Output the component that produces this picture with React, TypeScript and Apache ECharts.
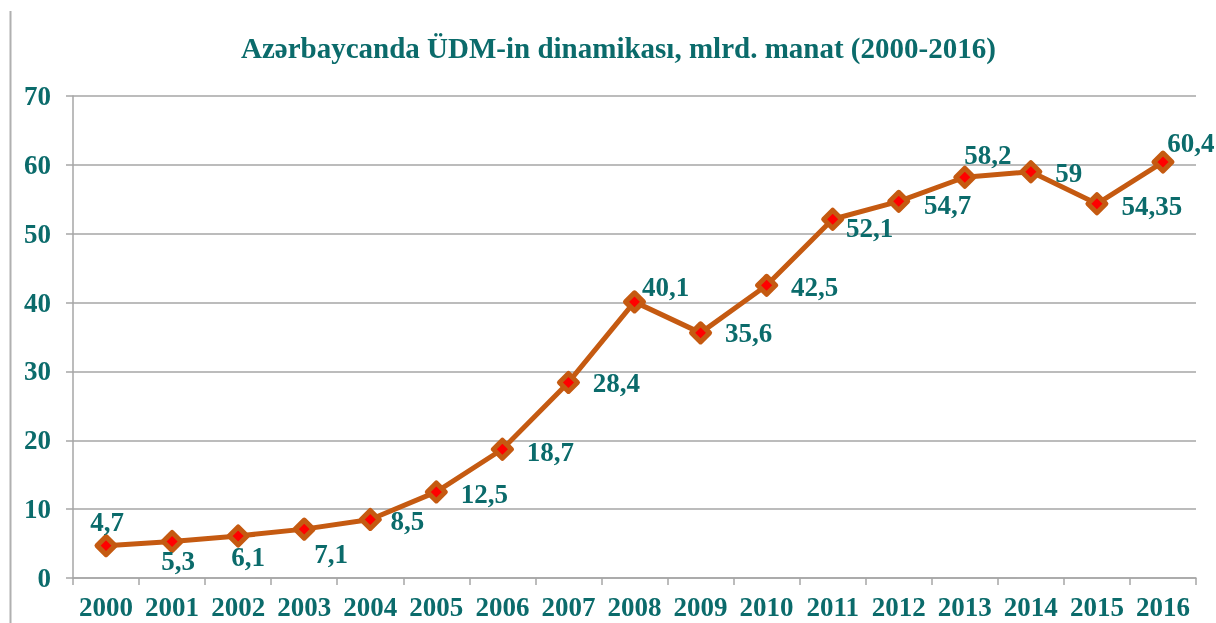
import React, { useEffect, useRef } from "react";
import * as echarts from "echarts";

const years = ["2000","2001","2002","2003","2004","2005","2006","2007","2008","2009","2010","2011","2012","2013","2014","2015","2016"];
const gdp = [4.7, 5.3, 6.1, 7.1, 8.5, 12.5, 18.7, 28.4, 40.1, 35.6, 42.5, 52.1, 54.7, 58.2, 59, 54.35, 60.4];
const labelTexts = ["4,7","5,3","6,1","7,1","8,5","12,5","18,7","28,4","40,1","35,6","42,5","52,1","54,7","58,2","59","54,35","60,4"];
const labelOffsets: [number, number][] = [
  [1, -24], [6, 19], [10, 21], [27, 25], [37, 2], [48, 2], [48, 3], [48, 1], [31, -15],
  [48, 0], [48, 2], [37, 9], [49, 4], [23, -22], [38, 1], [55, 2], [28, -19],
];
const title = "Azərbaycanda ÜDM-in dinamikası, mlrd. manat (2000-2016)";

const TEAL = "#0b6b6b";
const ORANGE = "#c55a11";
const GRID = "#a6a6a6";
const FONT = "'Liberation Serif', 'Times New Roman', serif";

export default function App() {
  const ref = useRef<HTMLDivElement>(null);
  useEffect(() => {
    const chart = echarts.init(ref.current!, null, { renderer: "svg" });
    chart.setOption({
      animation: false,
      title: {
        text: title,
        left: 236,
        top: 28,
        textStyle: { color: TEAL, fontFamily: FONT, fontWeight: "bold", fontSize: 29 },
      },
      graphic: [
        { type: "line", shape: { x1: 10.5, y1: 11, x2: 10.5, y2: 623 }, style: { stroke: "#b0b0b0", lineWidth: 2 } },
      ],
      grid: { left: 73, right: 20, top: 96, bottom: 45, containLabel: false },
      xAxis: {
        type: "category",
        data: years,
        boundaryGap: true,
        axisLine: { show: true, lineStyle: { color: GRID, width: 1.5 } },
        axisTick: { show: true, length: 7, alignWithLabel: false, lineStyle: { color: GRID, width: 1.5 } },
        axisLabel: { interval: 0, color: TEAL, fontFamily: FONT, fontWeight: "bold", fontSize: 27, margin: 15 },
      },
      yAxis: {
        type: "value",
        min: 0,
        max: 70,
        interval: 10,
        axisLine: { show: true, lineStyle: { color: GRID, width: 1.5 } },
        axisTick: { show: true, length: 7, lineStyle: { color: GRID, width: 1.5 } },
        splitLine: { show: true, lineStyle: { color: GRID, width: 1.5 } },
        axisLabel: { color: TEAL, fontFamily: FONT, fontWeight: "bold", fontSize: 27, margin: 22 },
      },
      series: [
        {
          type: "line",
          data: gdp.map((v, i) => ({
            value: v,
            label: {
              show: true,
              position: "inside",
              offset: labelOffsets[i],
              formatter: labelTexts[i],
            },
          })),
          lineStyle: { color: ORANGE, width: 5 },
          symbol: "diamond",
          symbolSize: 18,
          itemStyle: { color: "#ff0000", borderColor: ORANGE, borderWidth: 5, borderJoin: "round" },
          label: {
            show: true,
            color: TEAL,
            fontFamily: FONT,
            fontWeight: "bold",
            fontSize: 27,
            align: "center",
            verticalAlign: "middle",
          },
          z: 3,
        },
      ],
    });
    return () => chart.dispose();
  }, []);
  return <div ref={ref} style={{ position: "fixed", left: 0, top: 0, width: 1216, height: 623 }} />;
}
